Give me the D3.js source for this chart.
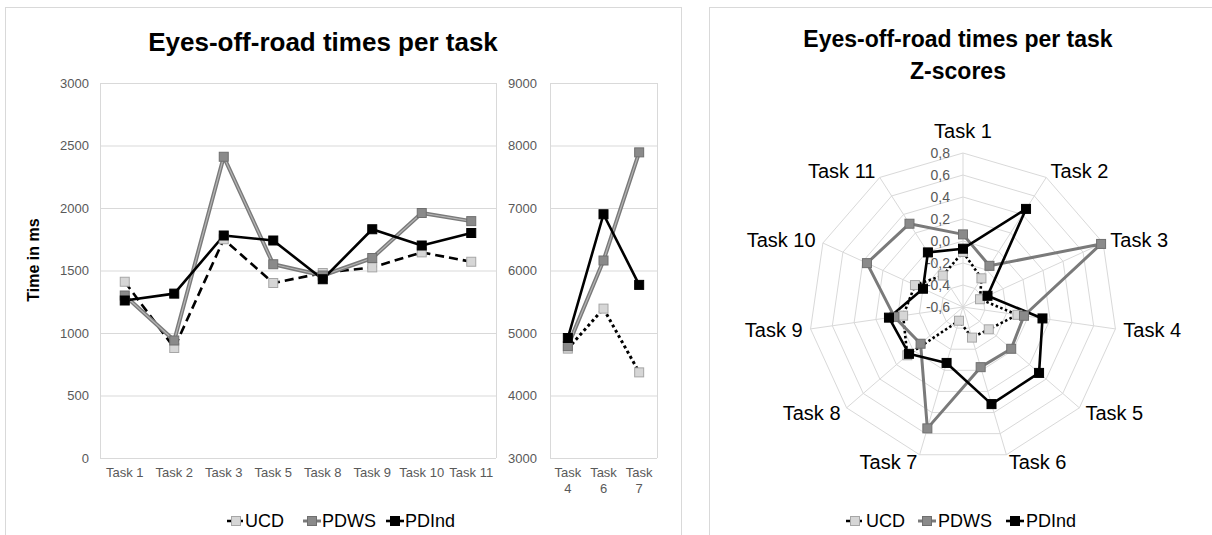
<!DOCTYPE html>
<html><head><meta charset="utf-8">
<script src="https://cdn.jsdelivr.net/npm/d3@7"></script>
<style>
body{margin:0;background:#fff}
svg{display:block}
text{font-family:"Liberation Sans",Arial,sans-serif}
</style>
</head><body>
<svg id="c" width="1212" height="535"></svg>
<script>
// ---------- DATA ----------
const seriesNames = ["UCD", "PDWS", "PDInd"];

const mainTasks = ["Task 1","Task 2","Task 3","Task 5","Task 8","Task 9","Task 10","Task 11"];
const ucdMain   = [1410, 880, 1750, 1400, 1480, 1525, 1645, 1570];
const pdwsMain  = [1300, 940, 2410, 1550, 1460, 1600, 1960, 1895];
const pdindMain = [1260, 1315, 1780, 1740, 1430, 1830, 1700, 1800];
const mainTicks = [0, 500, 1000, 1500, 2000, 2500, 3000];

const smallTasks = ["Task 4","Task 6","Task 7"];
const ucdSmall   = [4750, 5390, 4370];
const pdwsSmall  = [4790, 6160, 7890];
const pdindSmall = [4920, 6900, 5770];
const smallTicks = [3000, 4000, 5000, 6000, 7000, 8000, 9000];

const radarTasks = ["Task 1","Task 2","Task 3","Task 4","Task 5","Task 6","Task 7","Task 8","Task 9","Task 10","Task 11"];
const ucdZ   = [-0.10, -0.29, -0.43, -0.10, -0.29, -0.31, -0.47, 0.07, -0.05, -0.12, -0.26];
const pdwsZ  = [0.06, -0.155, 0.78, -0.04, -0.02, -0.03, 0.55, -0.09, 0.03, 0.36, 0.30];
const pdindZ = [-0.07, 0.46, -0.355, 0.13, 0.315, 0.32, -0.07, 0.05, 0.08, -0.20, -0.01];
const radarTicks = [-0.6, -0.4, -0.2, 0.0, 0.2, 0.4, 0.6, 0.8];

// ---------- SETUP ----------
const svg = d3.select("#c");
const GRID = "#d9d9d9", TXT = "#595959";
const MS = 9; // marker size

svg.append("rect").attr("x", 5.5).attr("y", 7.5).attr("width", 676).attr("height", 560)
  .attr("fill", "#fff").attr("stroke", GRID);
svg.append("rect").attr("x", 709.5).attr("y", 7.5).attr("width", 560).attr("height", 560)
  .attr("fill", "#fff").attr("stroke", GRID);

// titles
svg.append("text").attr("x", 323).attr("y", 51).attr("text-anchor", "middle")
  .attr("font-size", 26).attr("font-weight", "bold").attr("fill", "#000")
  .text("Eyes-off-road times per task");
const rt = svg.append("text").attr("x", 958).attr("y", 47).attr("text-anchor", "middle")
  .attr("font-size", 23).attr("font-weight", "bold").attr("fill", "#000");
rt.append("tspan").attr("x", 958).text("Eyes-off-road times per task");
rt.append("tspan").attr("x", 958).attr("dy", 32).text("Z-scores");

svg.append("text").attr("transform", "translate(39,260) rotate(-90)")
  .attr("text-anchor", "middle").attr("font-size", 16).attr("font-weight", "bold")
  .attr("fill", "#000").text("Time in ms");

function drawMarkers(g, pts, kind) {
  const sel = g.selectAll(null).data(pts).enter().append("rect")
    .attr("x", d => d[0] - MS / 2).attr("y", d => d[1] - MS / 2)
    .attr("width", MS).attr("height", MS);
  if (kind === "UCD") sel.attr("fill", "#d6d6d6").attr("stroke", "#a6a6a6").attr("stroke-width", 1);
  else if (kind === "PDWS") sel.attr("fill", "#8a8a8a").attr("stroke", "#6f6f6f").attr("stroke-width", 1);
  else sel.attr("fill", "#000").attr("stroke", "#000").attr("stroke-width", 1);
}

function drawSeries(g, pts, kind, ucdDash, closed) {
  const line = closed ? d3.line().curve(d3.curveLinearClosed) : d3.line();
  if (kind === "UCD") {
    g.append("path").attr("d", line(pts)).attr("fill", "none").attr("stroke", "#000")
      .attr("stroke-width", ucdDash[1]).attr("stroke-dasharray", ucdDash[0]);
  } else if (kind === "PDWS") {
    g.append("path").attr("d", line(pts)).attr("fill", "none").attr("stroke", "#7a7a7a")
      .attr("stroke-width", 4).attr("stroke-linejoin", "round");
    g.append("path").attr("d", line(pts)).attr("fill", "none").attr("stroke", "#b5b5b5")
      .attr("stroke-width", 1.2).attr("stroke-linejoin", "round");
  } else {
    g.append("path").attr("d", line(pts)).attr("fill", "none").attr("stroke", "#000")
      .attr("stroke-width", 2.6).attr("stroke-linejoin", "round");
  }
}

// ---------- LINE CHART (main) ----------
const yTop = 83, yBot = 458;
const xMain = d3.scaleBand().domain(mainTasks).range([100, 496]);
const yMain = d3.scaleLinear().domain([0, 3000]).range([yBot, yTop]);
const gMain = svg.append("g");

gMain.selectAll(null).data(mainTicks).enter().append("line")
  .attr("x1", 100).attr("x2", 496).attr("y1", d => yMain(d) + 0.5).attr("y2", d => yMain(d) + 0.5)
  .attr("stroke", GRID);
gMain.append("line").attr("x1", 100.5).attr("x2", 100.5).attr("y1", yTop).attr("y2", yBot).attr("stroke", GRID);
gMain.append("line").attr("x1", 496.5).attr("x2", 496.5).attr("y1", yTop).attr("y2", yBot).attr("stroke", GRID);

const axL = gMain.append("g").attr("transform", "translate(100,0)")
  .call(d3.axisLeft(yMain).tickValues(mainTicks).tickSize(0).tickPadding(11).tickFormat(d3.format("d")));
axL.select(".domain").remove();
axL.selectAll("text").attr("font-size", 13).attr("fill", TXT).attr("font-family", "Liberation Sans, Arial, sans-serif");

const axB = gMain.append("g").attr("transform", `translate(0,${yBot})`)
  .call(d3.axisBottom(xMain).tickSize(0).tickPadding(10));
axB.select(".domain").remove();
axB.selectAll("text").attr("font-size", 13).attr("fill", TXT).attr("font-family", "Liberation Sans, Arial, sans-serif");

const cx = t => xMain(t) + xMain.bandwidth() / 2;
const mainSeries = [["UCD", ucdMain], ["PDWS", pdwsMain], ["PDInd", pdindMain]];
mainSeries.forEach(([k, vals]) => {
  const pts = vals.map((v, i) => [cx(mainTasks[i]), yMain(v)]);
  drawSeries(gMain, pts, k, ["9,5", 2.6], false);
});
mainSeries.forEach(([k, vals]) => {
  drawMarkers(gMain, vals.map((v, i) => [cx(mainTasks[i]), yMain(v)]), k);
});

// ---------- LINE CHART (small) ----------
const xSmall = d3.scaleBand().domain(smallTasks).range([550, 657]);
const ySmall = d3.scaleLinear().domain([3000, 9000]).range([yBot, yTop]);
const gSmall = svg.append("g");
gSmall.selectAll(null).data(smallTicks).enter().append("line")
  .attr("x1", 550).attr("x2", 657).attr("y1", d => ySmall(d) + 0.5).attr("y2", d => ySmall(d) + 0.5)
  .attr("stroke", GRID);
gSmall.append("line").attr("x1", 550.5).attr("x2", 550.5).attr("y1", yTop).attr("y2", yBot).attr("stroke", GRID);
gSmall.append("line").attr("x1", 657.5).attr("x2", 657.5).attr("y1", yTop).attr("y2", yBot).attr("stroke", GRID);

const axS = gSmall.append("g").attr("transform", "translate(550,0)")
  .call(d3.axisLeft(ySmall).tickValues(smallTicks).tickSize(0).tickPadding(13).tickFormat(d3.format("d")));
axS.select(".domain").remove();
axS.selectAll("text").attr("font-size", 13).attr("fill", TXT).attr("font-family", "Liberation Sans, Arial, sans-serif");

const sx = t => xSmall(t) + xSmall.bandwidth() / 2;
const stx = gSmall.selectAll(null).data(smallTasks).enter().append("text")
  .attr("x", d => sx(d)).attr("y", 477).attr("text-anchor", "middle")
  .attr("font-size", 13).attr("fill", TXT);
stx.append("tspan").attr("x", d => sx(d)).text(d => d.split(" ")[0]);
stx.append("tspan").attr("x", d => sx(d)).attr("dy", 16).text(d => d.split(" ")[1]);

const smallSeries = [["UCD", ucdSmall], ["PDWS", pdwsSmall], ["PDInd", pdindSmall]];
smallSeries.forEach(([k, vals]) => {
  drawSeries(gSmall, vals.map((v, i) => [sx(smallTasks[i]), ySmall(v)]), k, ["3,3", 3], false);
});
smallSeries.forEach(([k, vals]) => {
  drawMarkers(gSmall, vals.map((v, i) => [sx(smallTasks[i]), ySmall(v)]), k);
});

// ---------- RADAR ----------
const RCX = 963, RCY = 307, RR = 154;
const rScale = d3.scaleLinear().domain([-0.6, 0.8]).range([0, RR]);
const angle = d3.scalePoint().domain(radarTasks).range([0, 2 * Math.PI * (radarTasks.length) / radarTasks.length]).padding(0);
const ang = t => radarTasks.indexOf(t) * 2 * Math.PI / radarTasks.length;
const P = (t, r) => [RCX + r * Math.sin(ang(t)), RCY - r * Math.cos(ang(t))];
const gR = svg.append("g");

radarTicks.slice(1).forEach(v => {
  const pts = radarTasks.map(t => P(t, rScale(v)));
  gR.append("path").attr("d", d3.line().curve(d3.curveLinearClosed)(pts))
    .attr("fill", "none").attr("stroke", GRID).attr("stroke-width", 1);
});
radarTasks.forEach(t => {
  const e = P(t, RR);
  gR.append("line").attr("x1", RCX).attr("y1", RCY).attr("x2", e[0]).attr("y2", e[1])
    .attr("stroke", GRID).attr("stroke-width", 1);
});

const fmtZ = v => d3.format(".1f")(v).replace(".", ",").replace("\u2212", "-");
gR.selectAll(null).data(radarTicks).enter().append("text")
  .attr("x", 950).attr("y", d => RCY - rScale(d)).attr("dy", "0.35em")
  .attr("text-anchor", "end").attr("font-size", 14).attr("fill", TXT).text(fmtZ);

gR.selectAll(null).data(radarTasks).enter().append("text")
  .each(function (t) {
    const a = ang(t), s = Math.sin(a);
    const p = P(t, 162);
    let anchor = "middle", y = p[1];
    if (s > 0.1) anchor = "start"; else if (s < -0.1) anchor = "end"; else y -= 14;
    d3.select(this).attr("x", p[0]).attr("y", y).attr("dy", "0.35em").attr("text-anchor", anchor);
  })
  .attr("font-size", 20).attr("fill", "#000").text(t => t);

const radarSeries = [["UCD", ucdZ], ["PDWS", pdwsZ], ["PDInd", pdindZ]];
radarSeries.forEach(([k, vals]) => {
  const pts = vals.map((v, i) => P(radarTasks[i], rScale(v)));
  if (k === "PDWS") {
    gR.append("path").attr("d", d3.line().curve(d3.curveLinearClosed)(pts)).attr("fill", "none")
      .attr("stroke", "#7a7a7a").attr("stroke-width", 3).attr("stroke-linejoin", "round");
  } else drawSeries(gR, pts, k, ["2.5,2.5", 2.6], true);
});
radarSeries.forEach(([k, vals]) => {
  drawMarkers(gR, vals.map((v, i) => P(radarTasks[i], rScale(v))), k);
});

// ---------- LEGENDS ----------
function legend(items) {
  items.forEach(([k, mx, tx]) => {
    const g = svg.append("g");
    const y = 521;
    const ln = g.append("line").attr("x1", mx - 9).attr("x2", mx + 9).attr("y1", y).attr("y2", y)
      .attr("stroke", k === "PDWS" ? "#7a7a7a" : "#000").attr("stroke-width", k === "PDWS" ? 3 : 2.6);
    if (k === "UCD") ln.attr("stroke-dasharray", "4,2");
    drawMarkers(g, [[mx, y]], k);
    g.append("text").attr("x", tx).attr("y", y).attr("dy", "0.35em").attr("font-size", 18)
      .attr("fill", "#000").text(k);
  });
}
legend([["UCD", 236, 245], ["PDWS", 312, 322], ["PDInd", 395, 405]]);
legend([["UCD", 855, 866], ["PDWS", 927, 938], ["PDInd", 1015, 1026]]);
</script>
</body></html>
